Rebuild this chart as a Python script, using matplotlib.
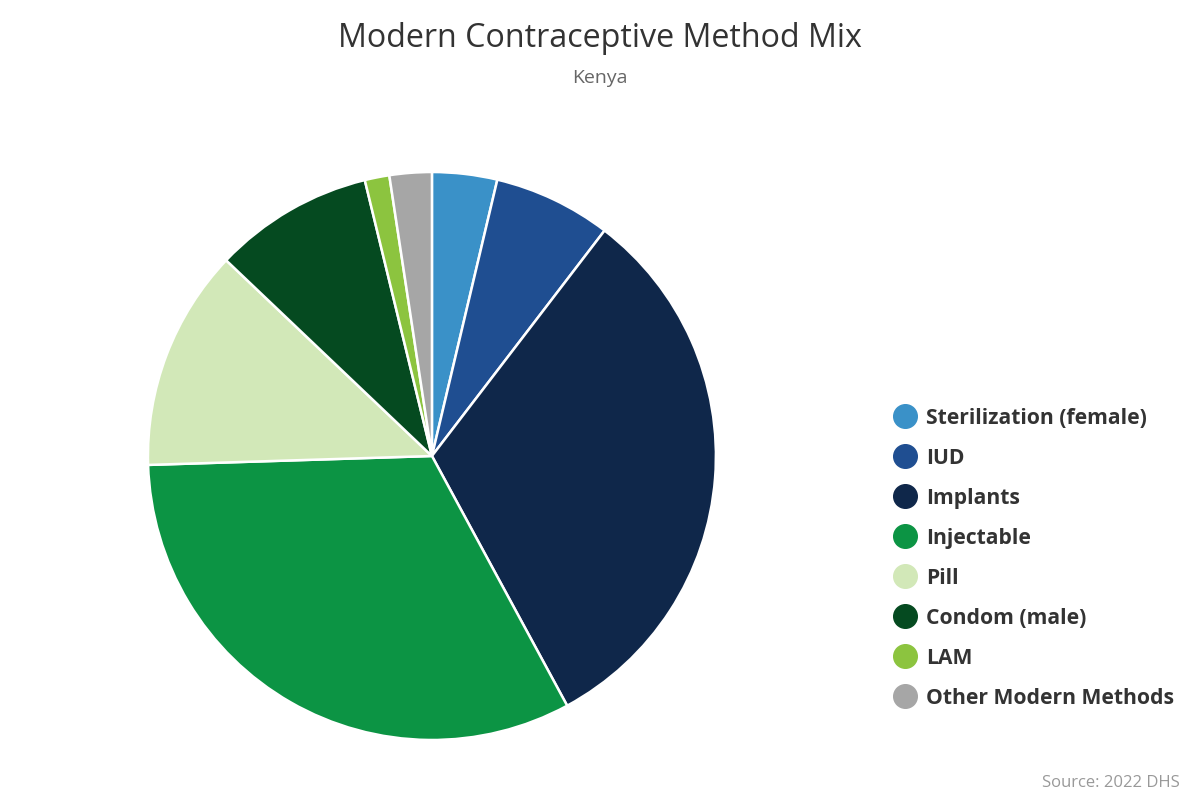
import matplotlib
matplotlib.use("Agg")
import matplotlib.pyplot as plt
from matplotlib.lines import Line2D

plt.rcParams['font.family'] = ['Open Sans', 'Noto Sans', 'DejaVu Sans']

methods = ["Sterilization (female)", "IUD", "Implants", "Injectable",
           "Pill", "Condom (male)", "LAM", "Other Modern Methods"]
shares = [3.7, 6.7, 31.7, 32.4, 12.6, 9.1, 1.4, 2.4]
colors = ["#3a91c8", "#1f4e91", "#0f274a", "#0c9444",
          "#d2e8b8", "#054a20", "#8cc43f", "#a6a6a6"]

fig = plt.figure(figsize=(12, 8), dpi=100)
ax = fig.add_axes([0.1233, 0.075, 0.4733, 0.71])
ax.pie(shares, colors=colors, startangle=90, counterclock=False,
       radius=1.0, wedgeprops=dict(edgecolor="white", linewidth=1.8))
ax.set_xlim(-1.0, 1.0)
ax.set_ylim(-1.0, 1.0)
ax.set_aspect("equal")
ax.axis("off")

fig.text(0.5, 0.952, "Modern Contraceptive Method Mix", ha="center", va="center",
         fontsize=23.2, color="#333333")
fig.text(0.5, 0.902, "Kenya", ha="center", va="center", fontsize=14, color="#666666")
fig.text(0.983, 0.021, "Source: 2022 DHS", ha="right", va="center",
         fontsize=12, color="#999999")

handles = [Line2D([0], [0], marker="o", linestyle="", markersize=17,
                  markerfacecolor=c, markeredgecolor=c) for c in colors]
leg = fig.legend(handles, methods, loc="upper left", bbox_to_anchor=(0.728, 0.514),
                 frameon=False, handletextpad=0.4, labelspacing=0.9,
                 prop=dict(size=15.2, weight="bold"), handlelength=1.2)
for t in leg.get_texts():
    t.set_color("#333333")

fig.savefig("out.png", dpi=100)
